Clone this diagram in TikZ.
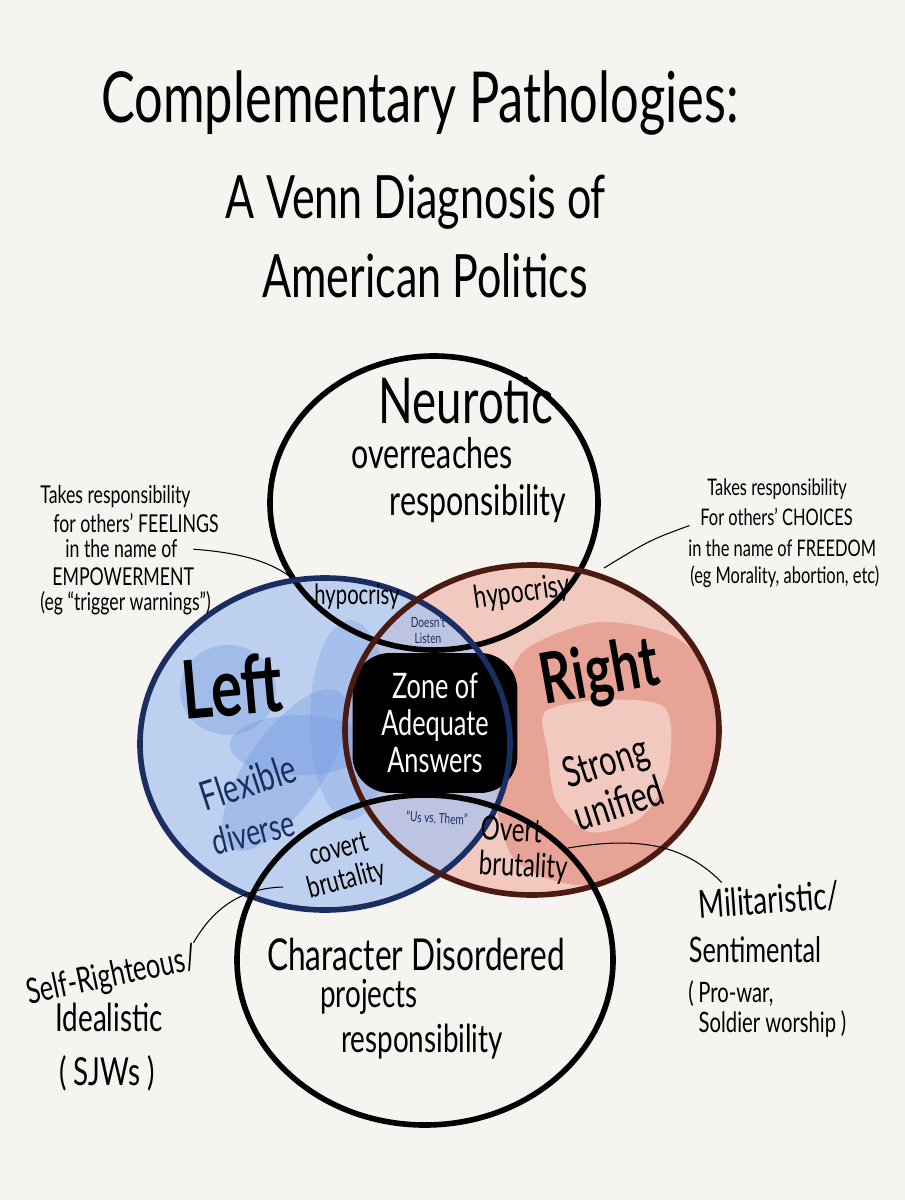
\documentclass[tikz,border=0pt]{standalone}
\usepackage{fontspec}
\setmainfont{Lato}[FakeStretch=0.72]
\usepackage{tikz}
\definecolor{paper}{HTML}{F6F4F0}
\definecolor{leftFill}{HTML}{A9C3EF}
\definecolor{leftInk}{HTML}{1A2E62}
\definecolor{leftSmudge}{HTML}{6F98E2}
\definecolor{rightFill}{HTML}{F2C9BF}
\definecolor{rightInk}{HTML}{4B1B12}
\definecolor{rightSmudge}{HTML}{E7A396}
\newcommand{\penSize}[2]{\fontsize{#1}{#2}\selectfont}

\begin{document}
\begin{tikzpicture}
[x=0.02cm,y=-0.02cm,
ring/.style={line width=3.2pt,black},
leftRing/.style={ring,leftInk},
rightRing/.style={ring,rightInk},
hand/.style={inner sep=0pt,align=center},
note/.style={hand,anchor=base west,font=\penSize{14pt}{15pt}},
rightNote/.style={note,font=\penSize{13pt}{15pt}},
leader/.style={line width=0.6pt},
zoneBox/.style={fill=black,text=white,rounded corners=0.75cm,minimum width=3.3cm,minimum height=2.8cm,align=center,font=\penSize{20pt}{21pt}}]
\fill[paper] (0,0) rectangle (905,1200);
\useasboundingbox (0,0) rectangle (905,1200);

\fill[rightFill] (532,730) ellipse [x radius=187,y radius=165];
\begin{scope}
\clip (532,730) ellipse [x radius=187,y radius=165];
\fill[rightSmudge] plot[smooth cycle] coordinates {(525,650) (600,622) (680,640) (722,700) (715,790) (660,860) (580,885) (515,860) (495,790) (505,700)};
\fill[rightFill] plot[smooth cycle] coordinates {(545,712) (600,700) (665,708) (668,772) (640,818) (590,832) (556,800) (548,752)};
\end{scope}
\fill[leftFill,opacity=0.72] (325,744) ellipse [x radius=185,y radius=166];
\begin{scope}
\clip (325,744) ellipse [x radius=185,y radius=166];
\fill[leftSmudge,opacity=0.35] (228,690) ellipse [x radius=48,y radius=45];
\fill[leftSmudge,opacity=0.35] (285,770) ellipse [x radius=95,y radius=38,rotate=55];
\fill[leftSmudge,opacity=0.35] (300,745) ellipse [x radius=70,y radius=30];
\fill[leftSmudge,opacity=0.3] (350,720) ellipse [x radius=40,y radius=100];
\end{scope}

\node[zoneBox] (zone) at (435,723) {Zone of\\Adequate\\Answers};

\draw[ring] (434,503) ellipse [x radius=164,y radius=147];
\draw[leftRing] (325,744) ellipse [x radius=185,y radius=166];
\draw[rightRing] (532,730) ellipse [x radius=187,y radius=165];
\draw[ring] (425,960) ellipse [x radius=188,y radius=165];

\node[hand,anchor=base,font=\penSize{40pt}{40pt}] (title1) at (420,122) {Complementary Pathologies:};
\node[hand,anchor=base,font=\penSize{34pt}{34pt}] (title2) at (416,218) {A Venn Diagnosis of};
\node[hand,anchor=base,font=\penSize{34pt}{34pt}] (title3) at (425,297) {American Politics};

\node[hand,anchor=base,font=\penSize{36pt}{36pt}] (neurotic) at (466,423) {Neurotic};
\node[hand,anchor=base,font=\penSize{24pt}{24pt}] (overreaches) at (432,468) {overreaches};
\node[hand,anchor=base,font=\penSize{24pt}{24pt}] (respTop) at (478,515) {responsibility};

\node[hand,font=\penSize{16pt}{16pt}] (hypLeft) at (357,597) {hypocrisy};
\node[hand,font=\penSize{18pt}{18pt},rotate=8] (hypRight) at (522,593) {hypocrisy};
\node[hand,font=\penSize{8pt}{9pt},leftInk] (listen) at (428,630) {Doesn't\\Listen};

\node[hand,font=\bfseries\penSize{46pt}{46pt},rotate=5] (left) at (232,686) {Left};
\node[hand,font=\penSize{23pt}{23pt},rotate=18,leftInk] (flexible) at (248,782) {Flexible};
\node[hand,font=\penSize{21pt}{21pt},rotate=14,leftInk] (diverse) at (253,832) {diverse};

\node[hand,font=\bfseries\penSize{40pt}{40pt},rotate=10] (right) at (600,675) {Right};
\node[hand,font=\penSize{24pt}{25pt},rotate=18] (strongUnified) at (612,782) {Strong\\unified};

\node[hand,font=\penSize{8pt}{9pt},leftInk,rotate=-3] (usThem) at (437,818) {``Us vs.\ Them''};

\node[hand,font=\penSize{17pt}{18pt},rotate=15] (covertBrut) at (343,866) {covert\\brutality};
\node[hand,align=left,font=\penSize{19pt}{20pt},rotate=-3] (overtBrut) at (524,850) {Overt\\brutality};

\node[hand,anchor=base,font=\penSize{25pt}{25pt}] (character) at (416,970) {Character Disordered};
\node[hand,anchor=base,font=\penSize{22pt}{22pt}] (projects) at (369,1007) {projects};
\node[hand,font=\penSize{22pt}{22pt}] (respBottom) at (422,1042) {responsibility};

\node[note] (feel1) at (40,503) {Takes responsibility};
\node[note] (feel2) at (53,532) {for others' FEELINGS};
\node[note] (feel3) at (65,557) {in the name of};
\node[note] (feel4) at (52,585) {EMPOWERMENT};
\node[note] (feel5) at (40,610) {(eg ``trigger warnings'')};

\node[rightNote] (choice1) at (707,495) {Takes responsibility};
\node[rightNote] (choice2) at (700,525) {For others' CHOICES};
\node[rightNote] (choice3) at (688,556) {in the name of FREEDOM};
\node[rightNote] (choice4) at (690,583) {(eg Morality, abortion, etc)};

\node[hand,font=\penSize{20pt}{20pt},rotate=12] (selfA) at (112,977) {Self-Righteous/};
\node[hand,font=\penSize{22pt}{22pt}] (selfB) at (109,1017) {Idealistic};
\node[hand,font=\penSize{22pt}{22pt}] (selfC) at (107,1073) {( SJWs )};

\node[hand,font=\penSize{22pt}{22pt},rotate=4] (milA) at (769,900) {Militaristic/};
\node[hand,font=\penSize{20pt}{20pt}] (milB) at (755,950) {Sentimental};
\node[hand,anchor=north west,align=left,font=\penSize{16pt}{17pt}] (milC) at (688,980) {(\,Pro-war,\\\ \ Soldier worship\,)};

\coordinate (hypTipL) at (292,578);
\coordinate (hypTipR) at (604,568);
\coordinate (covertTip) at (283,887);
\coordinate (overtTip) at (568,848);

\draw[leader,shorten <=9pt] (feel3.east) .. controls (245,553) and (272,563) .. (hypTipL);
\draw[leader] ([xshift=-6pt]choice2.south west) .. controls (650,540) .. (hypTipR);
\draw[leader] (selfA.north east) .. controls (215,905) and (245,888) .. (covertTip);
\draw[leader] (overtTip) .. controls (640,836) and (685,845) .. ([xshift=14pt,yshift=4pt]milA.north west);
\end{tikzpicture}
\end{document}
